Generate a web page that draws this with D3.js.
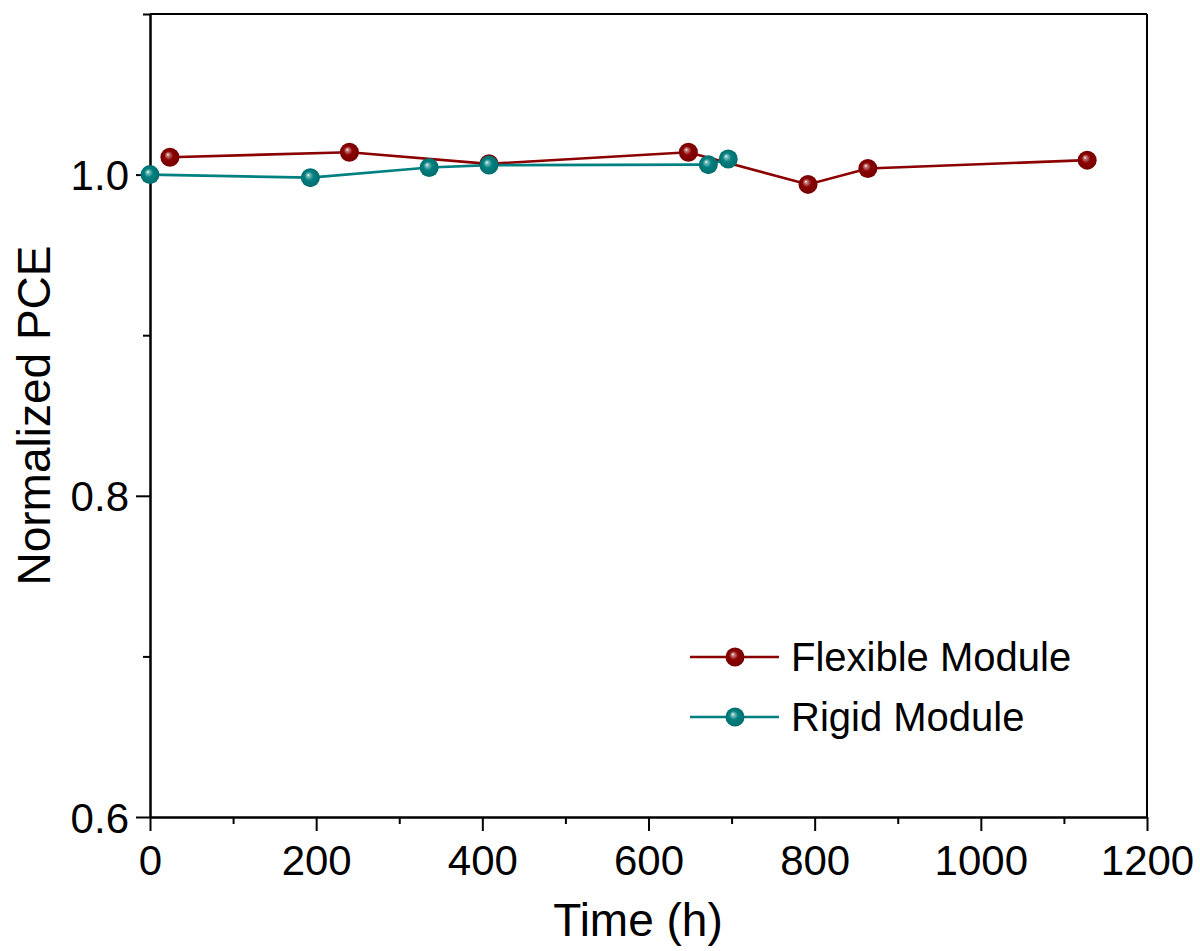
<!DOCTYPE html>
<html>
<head>
<meta charset="utf-8">
<script src="https://cdn.jsdelivr.net/npm/d3@7"></script>
<style>
  html, body { margin: 0; padding: 0; background: #fff; }
  svg { display: block; font-family: Arial, "Liberation Sans", sans-serif; }
</style>
</head>
<body>
<svg id="chart"></svg>
<script>
// Flexible module
const flexTime = [24, 240, 408, 648, 792, 864, 1128];
const flexPCE = [1.0108, 1.0139, 1.0067, 1.0139, 0.9939, 1.0038, 1.009];
// Rigid module
const rigidTime = [0, 193, 336, 408, 672, 696];
const rigidPCE = [1.0, 0.9981, 1.0044, 1.0059, 1.0062, 1.0097];

const xTicks = [0, 200, 400, 600, 800, 1000, 1200];
const yTicks = [0.6, 0.8, 1.0];
const seriesNames = ["Flexible Module", "Rigid Module"];

const width = 1200;
const height = 951;
const margin = { top: 14, right: 53, bottom: 134, left: 150 };

const svg = d3.select("#chart").attr("width", width).attr("height", height);

const x = d3.scaleLinear().domain([0, 1200]).range([margin.left, width - margin.right]);
const y = d3.scaleLinear().domain([0.6, 1.1]).range([height - margin.bottom, margin.top]);

const colors = { flex: "#8b0000", rigid: "#008080" };

// sphere-looking gradients
const defs = svg.append("defs");
function ball(id, c) {
  const g = defs.append("radialGradient").attr("id", id)
    .attr("cx", "50%").attr("cy", "50%").attr("r", "52%")
    .attr("fx", "38%").attr("fy", "35%");
  g.append("stop").attr("offset", "0%").attr("stop-color", "#fff");
  g.append("stop").attr("offset", "14%").attr("stop-color", d3.interpolateRgb("#fff", c)(0.5));
  g.append("stop").attr("offset", "45%").attr("stop-color", c);
  g.append("stop").attr("offset", "100%").attr("stop-color", d3.color(c).darker(0.5));
}
ball("ballFlex", colors.flex);
ball("ballRigid", colors.rigid);

const flexData = flexTime.map((t, i) => ({ t, v: flexPCE[i] }));
const rigidData = rigidTime.map((t, i) => ({ t, v: rigidPCE[i] }));

const line = d3.line().x(d => x(d.t)).y(d => y(d.v));

// axes
const axisW = 2;
const xAxis = svg.append("g").attr("transform", `translate(0,${y(0.6)})`)
  .call(d3.axisBottom(x).tickValues(xTicks).tickFormat(d3.format("d")).tickSize(14).tickPadding(14).tickSizeOuter(0));
const xMinor = svg.append("g").attr("transform", `translate(0,${y(0.6)})`)
  .call(d3.axisBottom(x).tickValues([100, 300, 500, 700, 900, 1100]).tickSize(7).tickFormat("").tickSizeOuter(0));
const yAxis = svg.append("g").attr("transform", `translate(${x(0)},0)`)
  .call(d3.axisLeft(y).tickValues(yTicks).tickFormat(d3.format(".1f")).tickSize(14).tickPadding(7).tickSizeOuter(0));
const yMinor = svg.append("g").attr("transform", `translate(${x(0)},0)`)
  .call(d3.axisLeft(y).tickValues([0.7, 0.9, 1.1]).tickSize(7).tickFormat("").tickSizeOuter(0));

[xAxis, xMinor, yAxis, yMinor].forEach(g => {
  g.selectAll("path").attr("stroke", "#000").attr("stroke-width", axisW);
  g.selectAll("line").attr("stroke", "#000").attr("stroke-width", axisW);
  g.selectAll("text").attr("fill", "#000").style("font-size", "42px").style("font-family", "Arial, 'Liberation Sans', sans-serif");
});
yAxis.selectAll("text").attr("dy", "0.36em");

// top & right frame
svg.append("line").attr("x1", x(0)).attr("x2", x(1200)).attr("y1", y(1.1)).attr("y2", y(1.1))
  .attr("stroke", "#000").attr("stroke-width", axisW);
svg.append("line").attr("x1", x(1200)).attr("x2", x(1200)).attr("y1", y(1.1)).attr("y2", y(0.6))
  .attr("stroke", "#000").attr("stroke-width", axisW);

// lines
svg.append("path").datum(flexData).attr("d", line).attr("fill", "none")
  .attr("stroke", colors.flex).attr("stroke-width", 2.6);
svg.append("path").datum(rigidData).attr("d", line).attr("fill", "none")
  .attr("stroke", colors.rigid).attr("stroke-width", 2.6);

// markers
svg.append("g").selectAll("circle").data(flexData).join("circle")
  .attr("cx", d => x(d.t)).attr("cy", d => y(d.v)).attr("r", 9.5).attr("fill", "url(#ballFlex)");
svg.append("g").selectAll("circle").data(rigidData).join("circle")
  .attr("cx", d => x(d.t)).attr("cy", d => y(d.v)).attr("r", 9.5).attr("fill", "url(#ballRigid)");

// axis titles
svg.append("text").attr("x", 638).attr("y", 936)
  .attr("text-anchor", "middle").style("font-size", "46px").text("Time (h)");
svg.append("text").attr("transform", `translate(50,${(y(0.6) + y(1.1)) / 2}) rotate(-90)`)
  .attr("text-anchor", "middle").style("font-size", "46px").text("Normalized PCE");

// legend
const legend = svg.append("g").attr("transform", "translate(690,657)");
const legendItems = [
  { name: seriesNames[0], color: colors.flex, fill: "url(#ballFlex)" },
  { name: seriesNames[1], color: colors.rigid, fill: "url(#ballRigid)" }
];
legend.selectAll("g").data(legendItems).join("g")
  .attr("transform", (d, i) => `translate(0,${i * 60})`)
  .each(function (d) {
    const g = d3.select(this);
    g.append("line").attr("x1", 0).attr("x2", 89).attr("stroke", d.color).attr("stroke-width", 2.6);
    g.append("circle").attr("cx", 45).attr("r", 9.5).attr("fill", d.fill);
    g.append("text").attr("x", 101).attr("dy", "0.36em").style("font-size", "40px").text(d.name);
  });
</script>
</body>
</html>
